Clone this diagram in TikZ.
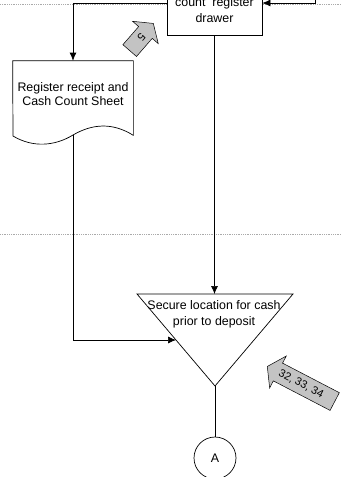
\documentclass[tikz,border=0pt]{standalone}
\usepackage{fontspec}
\setmainfont{Liberation Sans}
\usetikzlibrary{arrows.meta}
\usetikzlibrary{calc}
\definecolor{refgray}{RGB}{195,195,195}
\definecolor{lanegray}{RGB}{170,170,170}
\tikzset{
	flow/.style={draw, -{Latex[length=8pt,width=7pt]}},
	lane/.style={draw=lanegray, densely dotted, line width=0.8pt},
	box/.style={draw, fill=white, rectangle}
}
\newcommand{\procref}[7] % name, x, y, direction in degrees, length, body width, label
{
	% grey process reference arrow
	\begin{scope}[shift={(#2,#3)}, rotate=#4]
		\draw[fill=refgray, line width=0.5pt] ({-#5/2},{-#6/2}) -- ({#5/2-12},{-#6/2}) -- ({#5/2-12},{-#6/2-8}) -- ({#5/2},0) -- ({#5/2-12},{#6/2+8}) -- ({#5/2-12},{#6/2}) -- ({-#5/2},{#6/2}) -- cycle;
	\end{scope}
	% label reads from tip to tail
	\node[rotate=#4-180, font=\fontsize{11}{13}\selectfont] (#1) at (#2,#3) {#7};
}
\begin{document}
\begin{tikzpicture}[x=1pt, y=-1pt, line width=0.7pt, font=\fontsize{12.4}{16}\selectfont]
	\useasboundingbox (0,0) rectangle (341,477);
	% lane separators
	\draw[lane] (0,4) -- (341,4);
	\draw[lane] (0,234) -- (341,234);
	
	% register drawer, top runs off the page
	\node[box, minimum width=95, minimum height=64] (drawer) at (214.5,3) {};
	\node[anchor=south, inner sep=0, align=center] (drawertext) at ([yshift=12.3]drawer.south) {count\ \ register\\drawer};
	
	% receipt document
	\node[minimum width=120, minimum height=74, inner sep=0] (receipt) at (73,98) {};
	\draw[fill=white] (receipt.north west) -- (receipt.north east) -- (receipt.south east) .. controls (112,122) and (92,124) .. (73,135) .. controls (55,146) and (33,148) .. (13,136) -- cycle;
	\node[align=center, font=\fontsize{12.4}{14.5}\selectfont] (receipttext) at (73,94) {Register receipt and\\Cash Count Sheet};
	
	% storage triangle
	\coordinate (tri-nw) at (137,294);
	\coordinate (tri-ne) at (293,294);
	\coordinate (tri-s) at (215,386);
	\coordinate (tri-in) at ($(tri-nw)!0.5!(tri-s)$);
	\draw[fill=white] (tri-nw) -- (tri-ne) -- (tri-s) -- cycle;
	\node[align=center] (securetext) at (214,314.7) {Secure location for cash\\prior to deposit};
	
	% off-page connector
	\node[draw, circle, minimum size=42, inner sep=0] (conn) at (215,458) {A};
	
	% flow lines
	\coordinate (feed) at (315,-20);
	\draw[flow] (feed) |- (drawer.east);
	\draw[flow] (drawer.west) -| (receipt.north);
	\draw[flow] (drawer.south) -- (drawer.south |- tri-nw);
	\draw[flow] (receipt.south) |- (tri-in);
	\draw (tri-s) -- (conn);
	
	% process references
	\procref{reffive}{141.5}{37}{49}{36}{18}{5}
	\procref{refdeposit}{301}{384}{152.5}{76}{20}{32, 33, 34}
	
\end{tikzpicture}
\end{document}
